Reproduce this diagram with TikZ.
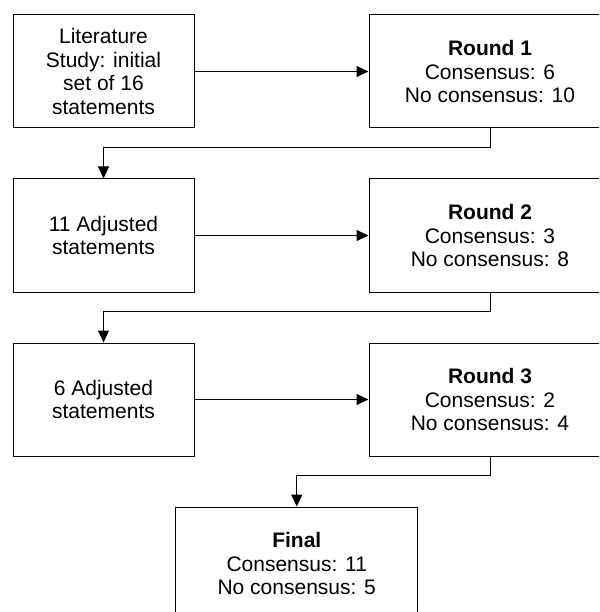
\documentclass[tikz,border=0pt]{standalone}
\usepackage{fontspec}
\setmainfont{Liberation Sans}
\usetikzlibrary{arrows.meta, positioning, calc}

\begin{document}
\begin{tikzpicture}[
    x=1pt, y=1pt, line width=1pt,
    >={Triangle[length=12pt, width=11pt]},
    box/.style={draw, minimum width=181pt, minimum height=113pt, inner sep=0pt, align=center, font=\fontsize{21}{23.5}\selectfont},
    roundbox/.style={box, minimum width=242pt},
]
    \clip (0,0) rectangle (599,-612);
    \node[box] (lit) at (103.5,-71.5) {Literature\\Study: initial\\set of 16\\statements};
    \node[roundbox, right=174pt of lit] (round1) {\textbf{Round 1}\\Consensus: 6\\No consensus: 10};
    \node[box, below=50pt of lit] (adj1) {11 Adjusted\\statements};
    \node[roundbox, right=174pt of adj1] (round2) {\textbf{Round 2}\\Consensus: 3\\No consensus: 8};
    \node[box, below=50pt of adj1] (adj2) {6 Adjusted\\statements};
    \node[roundbox, right=174pt of adj2] (round3) {\textbf{Round 3}\\Consensus: 2\\No consensus: 4};
    \coordinate (mid) at ($(adj2.south)!0.5!(round3.south)$);
    \node[roundbox, below=50pt of mid] (final) {\textbf{Final}\\Consensus: 11\\No consensus: 5};

    \draw[->] (lit) -- (round1);
    \draw[->] (adj1) -- (round2);
    \draw[->] (adj2) -- (round3);
    \draw[->] (round1.south) -- ++(0,-19) -| (adj1.north);
    \draw[->] (round2.south) -- ++(0,-19) -| (adj2.north);
    \draw[->] (round3.south) -- ++(0,-19) -| (final.north);
\end{tikzpicture}
\end{document}
